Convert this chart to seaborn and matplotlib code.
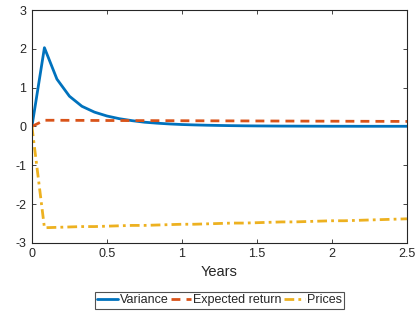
import numpy as np
import pandas as pd
import matplotlib
matplotlib.use("Agg")
import matplotlib.pyplot as plt
import seaborn as sns

# monthly steps, 0 .. 2.5 years
months = list(range(31))
variance = [0.0, 2.03, 1.22, 0.78, 0.52, 0.37, 0.27, 0.20, 0.15, 0.11, 0.085,
            0.065, 0.05, 0.04, 0.032, 0.026, 0.021, 0.017, 0.014, 0.012, 0.010,
            0.009, 0.008, 0.007, 0.006, 0.006, 0.005, 0.005, 0.005, 0.005, 0.005]
exp_return = [0.0, 0.16, 0.16, 0.158, 0.157, 0.155, 0.154, 0.153, 0.152, 0.151, 0.150,
              0.149, 0.148, 0.147, 0.146, 0.145, 0.144, 0.143, 0.142, 0.141, 0.140,
              0.139, 0.138, 0.137, 0.136, 0.135, 0.134, 0.133, 0.132, 0.131, 0.130]
prices = [0.0, -2.61, -2.60, -2.59, -2.58, -2.58, -2.57, -2.56, -2.55, -2.55, -2.54,
          -2.53, -2.52, -2.52, -2.51, -2.50, -2.49, -2.49, -2.48, -2.47, -2.46,
          -2.46, -2.45, -2.44, -2.43, -2.43, -2.42, -2.41, -2.40, -2.39, -2.38]
labels = ["Variance", "Expected return", "Prices"]
colors = ["#0072BD", "#D95319", "#EDB120"]
styles = ["-", (0, (3.2, 2.2)), (0, (3.5, 1.5, 1, 1.5))]

years = [m / 12 for m in months]
df = pd.DataFrame({"Years": years, labels[0]: variance,
                   labels[1]: exp_return, labels[2]: prices})
long = df.melt(id_vars="Years", var_name="series", value_name="value")

sns.set_style("ticks")
plt.rcParams["font.family"] = ["Liberation Sans", "DejaVu Sans"]
plt.rcParams["axes.unicode_minus"] = False

fig = plt.figure(figsize=(4.2, 3.15), dpi=100)
ax = fig.add_axes([0.076, 0.229, 0.893, 0.739])

for lab, col, ls in zip(labels, colors, styles):
    sub = long[long["series"] == lab]
    sns.lineplot(data=sub, x="Years", y="value", ax=ax, color=col,
                 linewidth=2.0, label=lab, linestyle=ls)

ax.set_xlim(0, 2.5)
ax.set_ylim(-3, 3)
ax.set_xticks([0, 0.5, 1, 1.5, 2, 2.5])
ax.set_xticklabels(["0", "0.5", "1", "1.5", "2", "2.5"])
ax.set_yticks([-3, -2, -1, 0, 1, 2, 3])
ax.set_xlabel("Years", fontsize=10.5, color="#262626", labelpad=3)
ax.set_ylabel("")
for s in ax.spines.values():
    s.set_visible(True)
    s.set_color("#262626")
    s.set_linewidth(0.8)
ax.tick_params(direction="in", top=True, right=True, length=3, width=0.6,
               labelsize=9, colors="#262626", pad=4)

leg = ax.legend(loc="upper center", bbox_to_anchor=(0.5, -0.21), ncol=3,
                fontsize=9, frameon=True, fancybox=False, handlelength=1.65,
                handletextpad=0.15, columnspacing=0.2, borderpad=0.2,
                borderaxespad=0)
leg.get_frame().set_edgecolor("#262626")
leg.get_frame().set_linewidth(0.8)

fig.savefig("out.png", dpi=100)
